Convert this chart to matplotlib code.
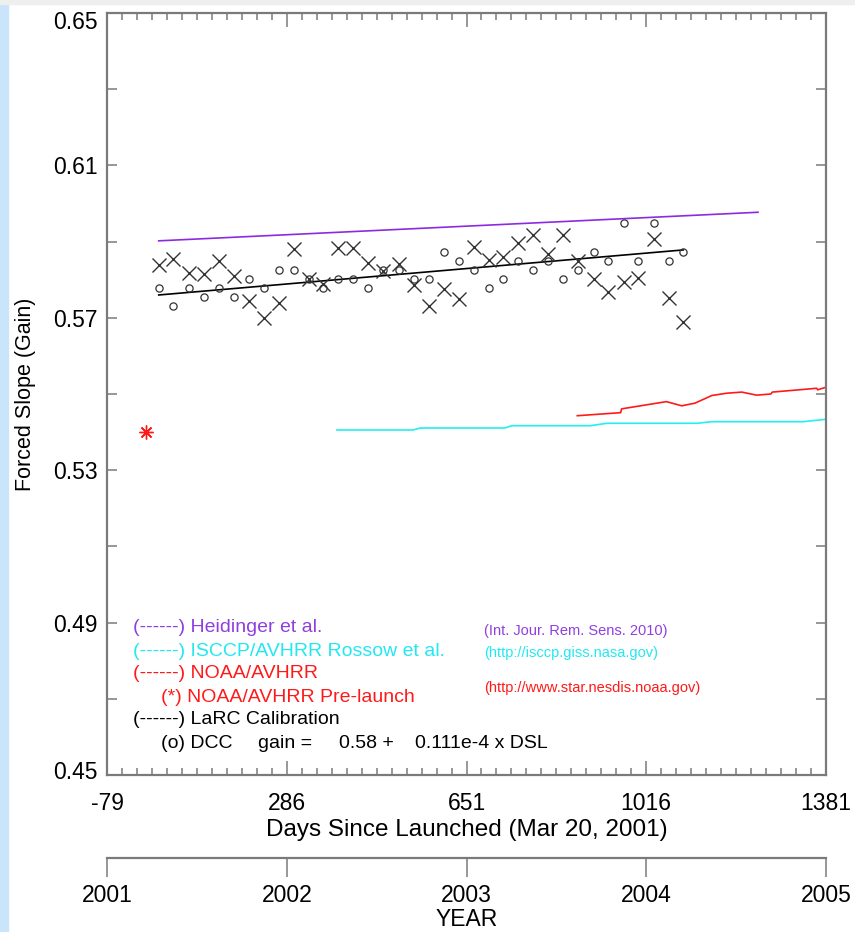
import matplotlib
matplotlib.use("Agg")
import matplotlib.pyplot as plt
from matplotlib.patches import Rectangle
from matplotlib.ticker import FixedLocator
from matplotlib.transforms import ScaledTranslation
import numpy as np

plt.rcParams['font.family'] = ['Liberation Sans', 'DejaVu Sans']

# ---- data -------------------------------------------------------------
# days since launch (Mar 20, 2001), mid-month samples Apr 2001 .. Mar 2004
dcc_days = [26, 56, 87, 117, 148, 179, 209, 240, 270, 301, 332, 360,
            391, 421, 452, 482, 513, 544, 574, 605, 635, 666, 697, 725,
            756, 786, 817, 847, 878, 909, 939, 970, 1000, 1031, 1062, 1091]
dcc_gain = [0.5777, 0.5732, 0.5777, 0.5755, 0.5777, 0.5755, 0.5801, 0.5777,
            0.5825, 0.5825, 0.5801, 0.5778, 0.5801, 0.5801, 0.5778, 0.5825,
            0.5825, 0.5801, 0.5801, 0.5873, 0.5850, 0.5825, 0.5778, 0.5802,
            0.5850, 0.5825, 0.5850, 0.5802, 0.5825, 0.5873, 0.5850, 0.5948,
            0.5850, 0.5948, 0.5850, 0.5873]
x_gain = [0.5839, 0.5854, 0.5818, 0.5814, 0.5849, 0.5811, 0.5743, 0.5699,
          0.5739, 0.5880, 0.5801, 0.5789, 0.5882, 0.5882, 0.5843, 0.5823,
          0.5841, 0.5785, 0.5731, 0.5775, 0.5749, 0.5887, 0.5853, 0.5860,
          0.5896, 0.5917, 0.5867, 0.5918, 0.5849, 0.5802, 0.5768, 0.5794,
          0.5805, 0.5907, 0.5751, 0.5689]

# LaRC linear fit: gain = intercept + slope * DSL
larc_intercept = 0.5757
larc_slope = 0.111e-4

heid_days = [26, 1243]
heid_gain = [0.5902, 0.5977]

isccp_days = [388, 542, 557, 729, 743, 902, 936, 1119, 1149, 1334, 1381]
isccp_gain = [0.54055, 0.54055, 0.54108, 0.54108, 0.54168, 0.54168,
              0.54231, 0.54231, 0.54273, 0.54273, 0.54336]

noaa_days = [876, 964, 966, 1057, 1088, 1115, 1149, 1179, 1210, 1240,
             1269, 1272, 1362, 1364, 1379]
noaa_gain = [0.5443, 0.5451, 0.5461, 0.5480, 0.5469, 0.5476, 0.5496,
             0.5502, 0.5505, 0.5497, 0.5500, 0.5505, 0.5515, 0.5511, 0.5517]

prelaunch_day = [0]
prelaunch_gain = [0.5401]

day_ticks = [-79, 286, 651, 1016, 1381]
gain_ticks = [0.45, 0.49, 0.53, 0.57, 0.61, 0.65]
year_labels = ['2001', '2002', '2003', '2004', '2005']

# ---- figure -----------------------------------------------------------
W, H = 855, 932
fig = plt.figure(figsize=(W / 100, H / 100), dpi=100)
fig.patches.append(Rectangle((0, 0), 8 / W, 1, transform=fig.transFigure,
                             color='#c9e4fb', zorder=0))
fig.patches.append(Rectangle((0, 1 - 4 / H), 1, 4 / H, transform=fig.transFigure,
                             color='#efefef', zorder=0))

L, R, T, B = 107, 826, 13, 775
ax = fig.add_axes([L / W, 1 - B / H, (R - L) / W, (B - T) / H])
ax.set_xlim(-79, 1381)
ax.set_ylim(0.45, 0.65)

spine_col = '#7a7a7a'
for s in ax.spines.values():
    s.set_color(spine_col)
    s.set_linewidth(1.6)

ax.xaxis.set_major_locator(FixedLocator(day_ticks))
ax.xaxis.set_minor_locator(FixedLocator(list(np.arange(-79, 1381.1, 365 / 12))))
ax.set_xticklabels([str(d) for d in day_ticks])
ytick_vals = np.round(np.arange(0.45, 0.6501, 0.02), 2)
ax.set_yticks(ytick_vals)
ax.set_yticklabels(['%.2f' % v if v in gain_ticks else '' for v in ytick_vals])
ax.tick_params(axis='both', which='both', direction='in', top=True, right=True,
               color=spine_col, labelsize=16.5, width=1.1)
ax.tick_params(axis='x', which='major', length=10, pad=12)
ax.tick_params(axis='x', which='minor', length=5)
ax.tick_params(axis='y', which='major', length=7, pad=7)

# end labels of the gain axis sit slightly inside the frame
ylabels = ax.get_yticklabels()
ylabels[0].set_transform(ylabels[0].get_transform() +
                         ScaledTranslation(0, 5 / 100, fig.dpi_scale_trans))
ylabels[-1].set_transform(ylabels[-1].get_transform() +
                          ScaledTranslation(0, -7 / 100, fig.dpi_scale_trans))

ax.set_xlabel('Days Since Launched (Mar 20, 2001)', fontsize=17.5, labelpad=3)
ax.set_ylabel('Forced Slope (Gain)', fontsize=15.5, labelpad=12)

purple = '#8a2be2'
cyan = '#22f0f0'
red = '#ff1a1a'

ax.plot(heid_days, heid_gain, color=purple, lw=1.2)
ax.plot(isccp_days, isccp_gain, color=cyan, lw=1.2)
ax.plot(noaa_days, noaa_gain, color=red, lw=1.2)
ax.plot(prelaunch_day, prelaunch_gain, linestyle='none', marker=(8, 2, 0),
        ms=10, mew=1.0, color=red)

fit_x = np.array([dcc_days[0], dcc_days[-1]])
ax.plot(fit_x, larc_intercept + larc_slope * fit_x, color='black', lw=1.2)
ax.plot(dcc_days, x_gain, linestyle='none', marker='x', ms=9.5, mew=1.0,
        color='#333333')
ax.plot(dcc_days, dcc_gain, linestyle='none', marker='o', ms=5.2, mew=0.9,
        mfc='none', mec='#333333')

# legend block
def ftext(x, y, s, color, size):
    fig.text(x / W, 1 - y / H, s, color=color, fontsize=size, va='center',
             ha='left')

LS = 14
ftext(133, 628, '(------) Heidinger et al.', '#8f3fe0', LS)
ftext(133, 651, '(------) ISCCP/AVHRR Rossow et al.', '#22e8f0', LS)
ftext(133, 674, '(------) NOAA/AVHRR', '#ff1a1a', LS)
ftext(161, 697, '(*) NOAA/AVHRR Pre-launch', '#ff1a1a', LS)
ftext(133, 720, '(------) LaRC Calibration', 'black', LS)
ftext(161, 744, '(o) DCC', 'black', LS)
ftext(258, 744, 'gain =', 'black', LS)
ftext(339, 744, '%.2f +' % larc_intercept, 'black', LS)
ftext(415, 744, '%.3fe-4 x DSL' % (larc_slope * 1e4), 'black', LS)
ftext(484, 631, '(Int. Jour. Rem. Sens. 2010)', '#8f3fe0', 10.5)
ftext(484, 653, '(http://isccp.giss.nasa.gov)', '#22e8f0', 10.5)
ftext(484, 688, '(http://www.star.nesdis.noaa.gov)', '#ff1a1a', 10.5)

# year axis
yax = fig.add_axes([L / W, 1 - 858 / H, (R - L) / W, 1e-6])
yax.set_xlim(-79, 1381)
for k in ('left', 'right', 'bottom'):
    yax.spines[k].set_visible(False)
yax.spines['top'].set_color(spine_col)
yax.spines['top'].set_linewidth(1.6)
yax.set_yticks([])
yax.xaxis.set_ticks_position('top')
yax.set_xticks(day_ticks)
yax.set_xticklabels([])
yax.tick_params(axis='x', direction='in', length=14, color=spine_col, width=1.1)
for d, lab in zip(day_ticks, year_labels):
    fig.text((L + (d + 79) / 1460 * (R - L)) / W, 1 - 896 / H, lab,
             fontsize=16.5, ha='center', va='center')
fig.text((L + R) / 2 / W, 1 - 919 / H, 'YEAR', fontsize=16.5, ha='center',
         va='center')

fig.savefig('out.png', dpi=100)
